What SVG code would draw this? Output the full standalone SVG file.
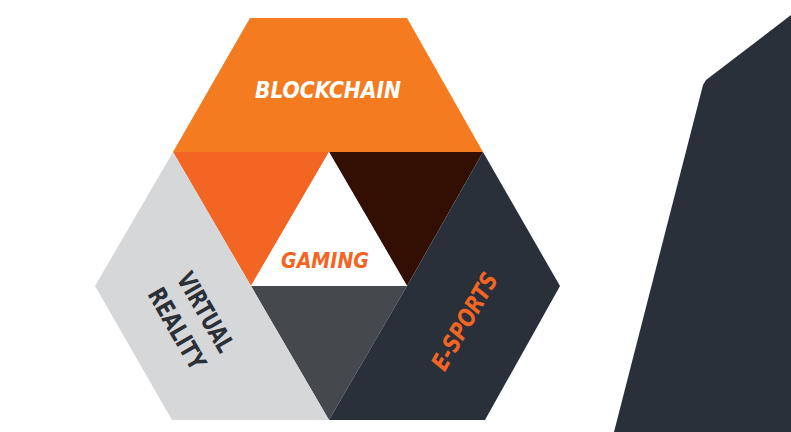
<svg xmlns="http://www.w3.org/2000/svg" width="791" height="432" viewBox="0 0 791 432">
<style>
.lbl{font-family:"Liberation Sans Narrow","DejaVu Sans Condensed","Liberation Sans",Arial,sans-serif;font-weight:bold;font-stretch:condensed;text-anchor:middle}
.it{font-style:italic}
</style>
<rect width="791" height="432" fill="#ffffff"/>
<polygon id="backdrop" points="791,15 706,80 703,85 614,432 791,432" fill="#29303A"/>
<g id="blockchain">
<polygon points="250,18 407,18 483,152 173,152" fill="#F47B20"/>
<text class="lbl it" x="328" y="98" font-size="23" fill="#ffffff" textLength="146" lengthAdjust="spacingAndGlyphs">BLOCKCHAIN</text>
</g>
<g id="blockchain-vr">
<polygon points="173,152 329,152 251,286" fill="#F26522"/>
</g>
<g id="blockchain-esports">
<polygon points="329,152 483,152 407,286" fill="#330F03"/>
</g>
<g id="vr-esports">
<polygon points="251,286 407,286 329,420" fill="#45484D"/>
</g>
<g id="virtual-reality">
<polygon points="173,152 251,286 329,420 172,420 95,286" fill="#D6D7D9"/>
<g transform="translate(192,320) rotate(60)">
<text class="lbl" x="0" y="-7" font-size="25" fill="#2B2F36" textLength="88" lengthAdjust="spacingAndGlyphs">VIRTUAL</text>
<text class="lbl" x="0" y="26" font-size="25" fill="#2B2F36" textLength="90" lengthAdjust="spacingAndGlyphs">REALITY</text>
</g>
</g>
<g id="e-sports">
<polygon points="483,152 560,286 485,420 329,420 407,286" fill="#29303A"/>
<text class="lbl it" transform="translate(464,321) rotate(-60)" x="0" y="9" font-size="24" fill="#F26522" textLength="108" lengthAdjust="spacingAndGlyphs">E-SPORTS</text>
</g>
<g id="gaming">
<polygon points="329,152 407,286 251,286" fill="#ffffff"/>
<text class="lbl it" x="325" y="268" font-size="21" fill="#F26522" textLength="88" lengthAdjust="spacingAndGlyphs">GAMING</text>
</g>
</svg>
